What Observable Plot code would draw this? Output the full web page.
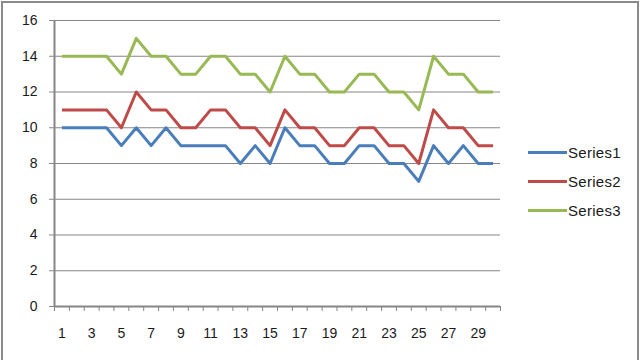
<!DOCTYPE html>
<html>
<head>
<meta charset="utf-8">
<script src="https://cdn.jsdelivr.net/npm/d3@7"></script>
<script src="https://cdn.jsdelivr.net/npm/@observablehq/plot@0.6"></script>
<style>
  html, body { margin: 0; padding: 0; background: #fff; }
  #wrap { position: relative; width: 640px; height: 360px; overflow: hidden; }
  #border { position: absolute; left: 1px; top: 1px; width: 634px; height: 370px;
            border-left: 2px solid #8a8a8a; border-top: 2px solid #8a8a8a; border-right: 2px solid #8a8a8a; pointer-events: none; }
  #legend { position: absolute; left: 528px; top: 0; font-family: "Liberation Sans", sans-serif; font-size: 15px; letter-spacing: 0.3px; color: #1a1a1a; }
  .item { position: absolute; left: 0; display: flex; align-items: center; white-space: nowrap; height: 20px; }
  .swatch { width: 39px; height: 3px; margin-right: 1px; }
</style>
</head>
<body>
<div id="wrap">
  <div id="chart"></div>
  <div id="legend"></div>
  <div id="border"></div>
</div>
<script>
const categories = [1,2,3,4,5,6,7,8,9,10,11,12,13,14,15,16,17,18,19,20,21,22,23,24,25,26,27,28,29,30];
const series1 = [10,10,10,10,9,10,9,10,9,9,9,9,8,9,8,10,9,9,8,8,9,9,8,8,7,9,8,9,8,8];
const series2 = [11,11,11,11,10,12,11,11,10,10,11,11,10,10,9,11,10,10,9,9,10,10,9,9,8,11,10,10,9,9];
const series3 = [14,14,14,14,13,15,14,14,13,13,14,14,13,13,12,14,13,13,12,12,13,13,12,12,11,14,13,13,12,12];
const seriesNames = ["Series1", "Series2", "Series3"];
const seriesColors = ["#4A7EBB", "#BE4B48", "#98B954"];
const xTickLabels = [1,3,5,7,9,11,13,15,17,19,21,23,25,27,29];
const yTicks = [0,2,4,6,8,10,12,14,16];

const allSeries = [series1, series2, series3];
const data = [];
allSeries.forEach((vals, si) => vals.forEach((v, i) => data.push({x: categories[i], y: v, series: seriesNames[si]})));
// category boundaries for tick marks
const boundaries = [categories[0] - 0.5, ...categories.map(c => c + 0.5)];

const chart = Plot.plot({
  width: 640,
  height: 360,
  marginLeft: 54,
  marginRight: 140,
  marginTop: 20,
  marginBottom: 54,
  style: {fontFamily: "Liberation Sans, sans-serif", fontSize: "14px", background: "transparent"},
  x: {type: "linear", domain: [boundaries[0], boundaries[boundaries.length - 1]]},
  y: {domain: [0, 16]},
  color: {domain: seriesNames, range: seriesColors},
  marks: [
    Plot.ruleY(yTicks.slice(1), {stroke: "#868686", strokeWidth: 1}),
    Plot.axisY({ticks: yTicks, tickSize: 5, tickPadding: 12, stroke: "#868686", fill: "#1a1a1a", label: null, tickFormat: d => String(d)}),
    Plot.axisX({ticks: boundaries, tickSize: 5, stroke: "#868686", tickFormat: () => "", label: null}),
    Plot.axisX({ticks: xTickLabels, tickSize: 0, tickPadding: 22, fill: "#1a1a1a", label: null, tickFormat: d => String(d)}),
    Plot.ruleX([boundaries[0]], {stroke: "#868686", strokeWidth: 2}),
    Plot.ruleY([0], {stroke: "#868686", strokeWidth: 2}),
    Plot.line(data, {x: "x", y: "y", z: "series", stroke: "series", strokeWidth: 3, strokeLinejoin: "round", strokeLinecap: "butt"})
  ]
});
document.getElementById("chart").appendChild(chart);

const legend = document.getElementById("legend");
const legendTops = [142, 171, 200];
seriesNames.forEach((name, i) => {
  const item = document.createElement("div");
  item.className = "item";
  item.style.top = legendTops[i] + "px";
  const sw = document.createElement("div");
  sw.className = "swatch";
  sw.style.background = seriesColors[i];
  const t = document.createElement("span");
  t.textContent = name;
  item.appendChild(sw);
  item.appendChild(t);
  legend.appendChild(item);
});
</script>
</body>
</html>
